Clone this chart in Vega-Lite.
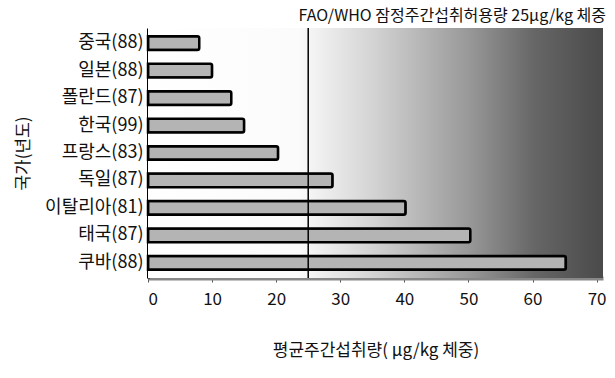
{
  "$schema": "https://vega.github.io/schema/vega-lite/v6.json",
  "autosize": {"type": "none"},
  "width": 455,
  "height": 250,
  "padding": {"left": 148, "top": 28, "right": 12, "bottom": 100},
  "background": "white",
  "config": {
    "font": "Noto Sans CJK KR",
    "view": {"stroke": null},
    "axis": {"labelFont": "Noto Sans CJK KR", "titleFont": "Noto Sans CJK KR", "labelColor": "#111", "titleColor": "#111", "grid": false}
  },
  "title": {
    "text": "FAO/WHO 잠정주간섭취허용량 25μg/kg 체중",
    "anchor": "end",
    "fontSize": 16,
    "fontWeight": "normal",
    "font": "Noto Sans CJK KR",
    "color": "#111",
    "offset": 3
  },
  "data": {
    "values": [
      {"country": "중국(88)", "value": 8},
      {"country": "일본(88)", "value": 10},
      {"country": "폴란드(87)", "value": 13},
      {"country": "한국(99)", "value": 15},
      {"country": "프랑스(83)", "value": 20.3},
      {"country": "독일(87)", "value": 28.8},
      {"country": "이탈리아(81)", "value": 40.2},
      {"country": "태국(87)", "value": 50.3},
      {"country": "쿠바(88)", "value": 65.2}
    ]
  },
  "layer": [
    {
      "data": {"values": [{"x0": 0, "x1": 71}]},
      "mark": {
        "type": "rect",
        "fill": {
          "x1": 0, "y1": 0, "x2": 1, "y2": 0,
          "gradient": "linear",
          "stops": [
            {"offset": 0, "color": "#ffffff"},
            {"offset": 0.33, "color": "#fbfbfb"},
            {"offset": 0.5, "color": "#d2d2d2"},
            {"offset": 0.7, "color": "#9a9a9a"},
            {"offset": 0.85, "color": "#666666"},
            {"offset": 1, "color": "#4a4a4a"}
          ]
        }
      },
      "encoding": {
        "x": {"field": "x0", "type": "quantitative"},
        "x2": {"field": "x1"}
      }
    },
    {
      "mark": {"type": "bar", "fill": "#b4b4b4", "stroke": "#000", "strokeWidth": 2.5, "cornerRadiusEnd": 2},
      "encoding": {
        "y": {
          "field": "country", "type": "nominal", "sort": null,
          "scale": {"paddingInner": 0.5, "paddingOuter": 0.3},
          "axis": {"title": "국가(년도)", "titleFontSize": 17, "titleFontWeight": "normal", "titlePadding": 12, "labelFontSize": 18, "labelPadding": 5, "ticks": false, "domainColor": "#000", "domainWidth": 3}
        },
        "x": {
          "field": "value", "type": "quantitative",
          "scale": {"domain": [0, 71], "nice": false},
          "axis": {"title": "평균주간섭취량( μg/kg 체중)", "values": [0, 10, 20, 30, 40, 50, 60, 70], "titleFontSize": 17, "titleFontWeight": "normal", "titlePadding": 35, "labelFontSize": 17, "labelPadding": 9, "tickSize": 4, "tickColor": "#555", "domainColor": "#888", "domainWidth": 4}
        }
      }
    },
    {
      "data": {"values": [{"limit": 25}]},
      "mark": {"type": "rule", "color": "#000", "strokeWidth": 1.5},
      "encoding": {"x": {"field": "limit", "type": "quantitative"}}
    }
  ]
}
